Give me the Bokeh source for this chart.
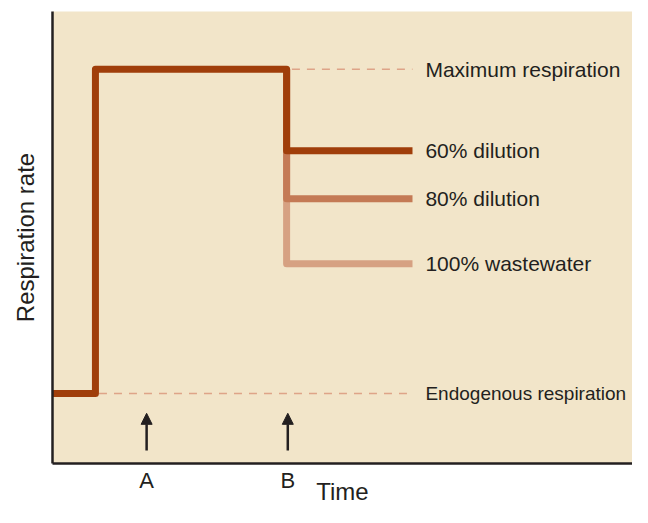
from bokeh.plotting import figure
from bokeh.models import Range1d, FixedTicker, Label, Arrow, NormalHead
from bokeh.embed import file_html
from bokeh.resources import INLINE

# ---- data (arbitrary time units / relative respiration rate) ----
t_start = 0.0
t_step = 0.73          # substrate added
t_drop = 3.98          # wastewater added
t_end = 6.12
arrow_times = [1.6, 4.0]
arrow_labels = ["A", "B"]
arrow_bottom = 2.9
arrow_top = 11.1

endogenous = 15.5
maximum = 87.2
level_60 = 69.2
level_80 = 58.6
level_100 = 44.2

series_names = ["60% dilution", "80% dilution", "100% wastewater"]
series_levels = [level_60, level_80, level_100]
series_colors = ["#a03e0a", "#c47a55", "#d6a182"]

FONT = "Liberation Sans"
TXT = "#231f20"
BG = "#f2e5c9"
DASH = "#dea488"

p = figure(width=632, height=507, x_range=Range1d(0, 9.86), y_range=Range1d(0, 100),
           output_backend="svg", toolbar_location=None,
           min_border_left=52, min_border_right=0, min_border_top=11, min_border_bottom=44)
p.background_fill_color = BG
p.border_fill_color = "white"
p.outline_line_color = None
p.grid.visible = False

# y axis
p.yaxis.ticker = FixedTicker(ticks=[])
p.yaxis.minor_tick_line_color = None
p.yaxis.major_tick_line_color = None
p.yaxis.major_tick_out = 0
p.yaxis.major_tick_in = 0
p.yaxis.major_label_text_font_size = "0px"
p.yaxis.major_label_standoff = 0
p.yaxis.axis_label = "Respiration rate"
p.yaxis.axis_label_text_font = FONT
p.yaxis.axis_label_text_font_size = "24px"
p.yaxis.axis_label_text_font_style = "normal"
p.yaxis.axis_label_text_color = TXT
p.yaxis.axis_label_standoff = 14

# x axis
p.xaxis.ticker = FixedTicker(ticks=arrow_times)
p.xaxis.major_label_overrides = {t: lab for t, lab in zip(arrow_times, arrow_labels)}
p.xaxis.major_label_text_font = FONT
p.xaxis.major_label_text_font_size = "22px"
p.xaxis.major_label_text_color = TXT
p.xaxis.major_label_standoff = 4
p.xaxis.major_tick_line_color = None
p.xaxis.minor_tick_line_color = None
p.xaxis.major_tick_out = 0
p.xaxis.major_tick_in = 0
p.xaxis.axis_label = "Time"
p.xaxis.axis_label_text_font = FONT
p.xaxis.axis_label_text_font_size = "24px"
p.xaxis.axis_label_text_font_style = "normal"
p.xaxis.axis_label_text_color = TXT
p.xaxis.axis_label_standoff = -18

for ax in (p.xaxis, p.yaxis):
    ax.axis_line_width = 2.5
    ax.axis_line_color = TXT

# dashed reference levels
p.line([t_drop + 0.09, t_end], [maximum, maximum], line_color=DASH, line_width=1.5, line_dash="8 7")
p.line([t_step + 0.06, t_end], [endogenous, endogenous], line_color=DASH, line_width=1.5, line_dash="8 7")

# response curves (lightest first)
for name, lev, col in reversed(list(zip(series_names, series_levels, series_colors))):
    if lev == level_60:
        xs = [t_start, t_step, t_step, t_drop, t_drop, t_end]
        ys = [endogenous, endogenous, maximum, maximum, lev, lev]
    else:
        xs = [t_drop, t_drop, t_end]
        ys = [maximum, lev, lev]
    p.line(xs, ys, line_color=col, line_width=7, line_join="round", line_cap="butt")

# right-hand annotations
label_x = 6.34
ann_texts = ["Maximum respiration"] + series_names + ["Endogenous respiration"]
ann_levels = [maximum] + series_levels + [endogenous]
ann_sizes = ["21px", "21px", "21px", "21px", "19px"]
for txt, lev, fs in zip(ann_texts, ann_levels, ann_sizes):
    p.add_layout(Label(x=label_x, y=lev, text=txt, text_font=FONT, text_font_size=fs,
                       text_color=TXT, text_baseline="middle", text_align="left"))

# arrows A and B
for t in arrow_times:
    p.add_layout(Arrow(end=NormalHead(size=11, fill_color=TXT, line_color=TXT),
                       x_start=t, y_start=arrow_bottom, x_end=t, y_end=arrow_top,
                       line_color=TXT, line_width=2.5))

open("out.html", "w").write(file_html(p, INLINE))
